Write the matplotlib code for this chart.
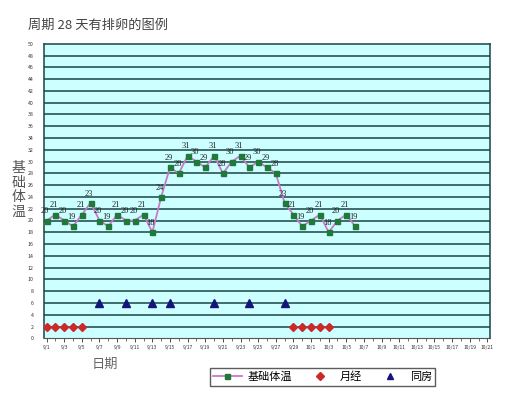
import matplotlib
matplotlib.use("Agg")
import matplotlib.pyplot as plt
from matplotlib.lines import Line2D

plt.rcParams['font.family'] = ['Noto Sans CJK SC', 'DejaVu Sans']

# ---- data ----
date_labels = ["9/1", "9/3", "9/5", "9/7", "9/9", "9/11", "9/13", "9/15", "9/17",
               "9/19", "9/21", "9/23", "9/25", "9/27", "9/29", "10/1", "10/3",
               "10/5", "10/7", "10/9", "10/11", "10/13", "10/15", "10/17",
               "10/19", "10/21"]
n_days = 51  # 9/1 .. 10/21

temp_days = list(range(36))
temp_values = [20, 21, 20, 19, 21, 23, 20, 19, 21, 20, 20, 21, 18, 24,
               29, 28, 31, 30, 29, 31, 28, 30, 31, 29, 30, 29, 28, 23,
               21, 19, 20, 21, 18, 20, 21, 19]

period_days = [0, 1, 2, 3, 4, 28, 29, 30, 31, 32]
period_values = [2] * len(period_days)

sex_days = [6, 9, 12, 14, 19, 23, 27]
sex_values = [6] * len(sex_days)

y_ticks = list(range(0, 51, 2))

title_text = "周期 28 天有排卵的图例"
ylabel_text = "基\n础\n体\n温"
xlabel_text = "日期"
legend_labels = ["基础体温", "月经", "同房"]

# ---- figure ----
W, H = 515, 400
fig = plt.figure(figsize=(W / 100, H / 100), dpi=100)
ax = fig.add_axes([43.5 / W, 1 - 338.3 / H, (490 - 43.5) / W, (338.3 - 43.8) / H])
ax.set_facecolor('#ccffff')

ax.set_xlim(-0.35, 50.3)
ax.set_ylim(0, 50)

for y in y_ticks[1:-1]:
    ax.axhline(y, color='#1a4444', lw=1.1, zorder=1)

line_color = '#cc77cc'
sq_color = '#1f7a3a'
ax.plot(temp_days, temp_values, color=line_color, lw=1.3, zorder=3,
        marker='s', markersize=3.6, markerfacecolor=sq_color,
        markeredgecolor=sq_color)
for d, v in zip(temp_days, temp_values):
    ax.annotate(str(v), (d, v), xytext=(-1, 3.8), textcoords='offset points',
                ha='center', va='bottom', fontsize=6,
                family='Liberation Serif', color='#222222', zorder=4)

ax.plot(period_days, period_values, linestyle='none', marker='D',
        markersize=3.6, color='#cc2a2a', zorder=3)
ax.plot(sex_days, sex_values, linestyle='none', marker='^',
        markersize=5.2, color='#14147a', zorder=3)

# ticks
ax.set_xticks(range(0, n_days, 2))
ax.set_xticklabels(date_labels, fontsize=3.6, color='#333333')
ax.set_xticks(range(n_days), minor=True)
ax.set_yticks(y_ticks)
ax.set_yticklabels([str(v) for v in y_ticks], fontsize=3.8, color='#333333')
ax.tick_params(axis='x', which='major', length=3, width=0.6, pad=2, color='#333333')
ax.tick_params(axis='x', which='minor', length=2, width=0.5, color='#333333')
ax.tick_params(axis='y', length=0, pad=7)
for s in ['top', 'right', 'left']:
    ax.spines[s].set_color('#1a4444')
    ax.spines[s].set_linewidth(1.1)
ax.spines['bottom'].set_color('#555555')
ax.spines['bottom'].set_linewidth(0.8)

# texts
fig.text(28 / W, 1 - 25 / H, title_text, fontsize=9.5, color='#444444',
         ha='left', va='center')
fig.text(18 / W, 1 - 190 / H, ylabel_text, fontsize=10, color='#555555',
         ha='center', va='center', linespacing=1.05)
fig.text(105 / W, 1 - 364 / H, xlabel_text, fontsize=9.5, color='#666666',
         ha='center', va='center')

handles = [
    Line2D([], [], color=line_color, lw=1.3, marker='s', markersize=3.6,
           markerfacecolor=sq_color, markeredgecolor=sq_color),
    Line2D([], [], linestyle='none', marker='D', markersize=3.8, color='#cc2a2a'),
    Line2D([], [], linestyle='none', marker='^', markersize=5, color='#14147a'),
]
leg = fig.legend(handles, legend_labels, loc='center',
                 bbox_to_anchor=(322.5 / W, 1 - 377 / H), ncol=3, frameon=True,
                 fancybox=False, edgecolor='#333333', fontsize=8,
                 handlelength=2.6, handletextpad=0.5, columnspacing=1.2,
                 borderpad=0.3, borderaxespad=0)
leg.get_frame().set_linewidth(1.0)

fig.savefig('out.png', dpi=100, facecolor='white')
